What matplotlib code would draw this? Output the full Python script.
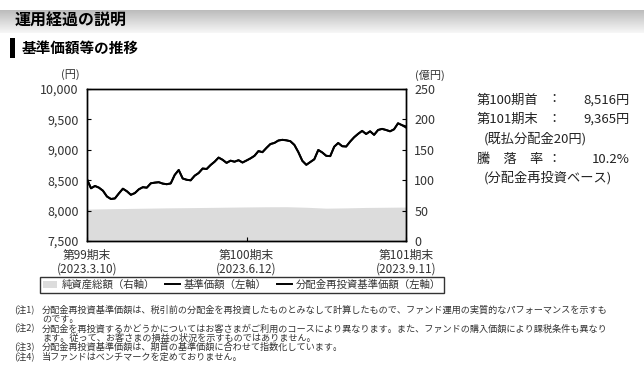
import matplotlib
matplotlib.use('Agg')
import matplotlib.pyplot as plt
from matplotlib.patches import Patch, Rectangle
from matplotlib.lines import Line2D
import numpy as np

plt.rcParams['font.family'] = ['Noto Sans CJK JP', 'DejaVu Sans']

# データ
nav = [8516, 8367, 8405, 8377, 8327, 8232, 8191, 8200, 8283, 8360,
       8318, 8260, 8288, 8350, 8385, 8377, 8449, 8460, 8467, 8444,
       8434, 8447, 8587, 8668, 8528, 8507, 8498, 8574, 8618, 8692,
       8684, 8750, 8804, 8872, 8836, 8785, 8821, 8804, 8829, 8791,
       8824, 8859, 8901, 8979, 8961, 9031, 9095, 9113, 9153, 9164,
       9156, 9141, 9081, 8962, 8819, 8753, 8799, 8844, 8997, 8956,
       8901, 8896, 9051, 9112, 9059, 9054, 9136, 9207, 9263, 9311,
       9260, 9304, 9246, 9326, 9344, 9326, 9304, 9337, 9436, 9405,
       9365]
# 分配金再投資基準価額（期末に分配金20円を再投資）
nav_reinvest = nav[:-1] + [9385]
net_assets = [52.5, 53.0, 53.5, 54.0, 54.5, 54.8, 55.2, 55.6, 56.0,
              56.3, 56.4, 55.5, 54.0, 54.5, 55.2, 55.5, 55.8]

period_labels = ['第99期末\n(2023.3.10)', '第100期末\n(2023.6.12)', '第101期末\n(2023.9.11)']
left_ticks = [7500, 8000, 8500, 9000, 9500, 10000]
right_ticks = [0, 50, 100, 150, 200, 250]

legend_labels = ['純資産総額（右軸）', '基準価額（左軸）', '分配金再投資基準価額（左軸）']

summary_rows = [('第100期首', '8,516円'), ('第101期末', '9,365円'), ('騰　落　率', '10.2%')]
summary_notes = ['(既払分配金20円)', '(分配金再投資ベース)']

notes = [
    ('(注1)', '分配金再投資基準価額は、税引前の分配金を再投資したものとみなして計算したもので、ファンド運用の実質的なパフォーマンスを示すも\nのです。'),
    ('(注2)', '分配金を再投資するかどうかについてはお客さまがご利用のコースにより異なります。また、ファンドの購入価額により課税条件も異なり\nます。従って、お客さまの損益の状況を示すものではありません。'),
    ('(注3)', '分配金再投資基準価額は、期首の基準価額に合わせて指数化しています。'),
    ('(注4)', '当ファンドはベンチマークを定めておりません。'),
]

W, H = 644, 387


def fx(px):
    return px / W


def fy(py):
    return 1 - py / H


fig = plt.figure(figsize=(W / 100, H / 100), dpi=100, facecolor='white')

# 見出し帯（グラデーション）
hax = fig.add_axes([0, fy(33), 1, 23 / H])
grad = np.linspace(0, 1, 50).reshape(-1, 1)
hax.imshow(grad, aspect='auto', cmap=matplotlib.colors.LinearSegmentedColormap.from_list(
    'g', ['#bcbcbc', '#f7f7f7']), extent=[0, 1, 0, 1])
hax.axis('off')
fig.text(fx(15), fy(21), '運用経過の説明', fontsize=11.5, weight='bold', va='center', ha='left')

# 小見出し
fig.patches.append(Rectangle((fx(10), fy(58)), 5 / W, 20 / H, transform=fig.transFigure,
                             facecolor='black', edgecolor='none'))
fig.text(fx(22), fy(47.5), '基準価額等の推移', fontsize=10.5, weight='bold', va='center', ha='left')

# グラフ
ax = fig.add_axes([fx(87), fy(241), 319 / W, 152 / H])
ax2 = ax.twinx()

x = np.arange(len(nav))
xa = np.linspace(0, len(nav) - 1, len(net_assets))
ax2.fill_between(xa, 0, net_assets, color='#dcdcdc', linewidth=0)
ax2.set_ylim(0, 250)
ax2.set_yticks(right_ticks)
ax2.set_yticklabels([str(v) for v in right_ticks])

ax.plot(x, nav_reinvest, color='black', linewidth=1.4)
ax.plot(x, nav, color='black', linewidth=1.4)
ax.set_ylim(7500, 10000)
ax.set_yticks(left_ticks)
ax.set_yticklabels([f'{v:,}' for v in left_ticks])
ax.set_xlim(0, len(nav) - 1)
ax.set_xticks([0, (len(nav) - 1) / 2, len(nav) - 1])
ax.set_xticklabels(period_labels, linespacing=1.05)

ax.set_zorder(ax2.get_zorder() + 1)
ax.patch.set_visible(False)

for a in (ax, ax2):
    for s in a.spines.values():
        s.set_linewidth(1.0)
        s.set_color('black')
ax.tick_params(axis='y', direction='in', length=3, pad=6, labelsize=9, labelcolor='#333333')
ax.tick_params(axis='x', direction='in', length=3, pad=6, labelsize=8.5, labelcolor='#333333')
ax2.tick_params(axis='y', direction='in', length=3, pad=6, labelsize=9, labelcolor='#333333')

fig.text(fx(70), fy(75), '(円)', fontsize=8, ha='center', va='center', color='#333333')
fig.text(fx(430), fy(75), '(億円)', fontsize=8, ha='center', va='center', color='#333333')

# 凡例
handles = [Patch(facecolor='#dcdcdc', edgecolor='none'),
           Line2D([], [], color='black', linewidth=1.4),
           Line2D([], [], color='black', linewidth=1.4)]
leg = fig.legend(handles, legend_labels, loc='center left', bbox_to_anchor=(fx(40), fy(285)),
                 ncol=3, fontsize=7.5, frameon=True, fancybox=False, edgecolor='black',
                 handlelength=1.4, handletextpad=0.4, columnspacing=1.0, borderpad=0.25,
                 borderaxespad=0)
leg.get_frame().set_linewidth(1.0)
for t in leg.get_texts():
    t.set_color('#333333')

# 右側の説明
row_y = [100, 119, 159]
for (lab, val), yy in zip(summary_rows, row_y):
    fig.text(fx(477), fy(yy), lab, fontsize=9.5, ha='left', va='center', color='#222222')
    fig.text(fx(547), fy(yy), '：', fontsize=9.5, ha='left', va='center', color='#222222')
    fig.text(fx(630), fy(yy), val, fontsize=9.5, ha='right', va='center', color='#222222')
for txt, yy in zip(summary_notes, [139, 178]):
    fig.text(fx(484), fy(yy), txt, fontsize=9.5, ha='left', va='center', color='#222222')

# 注記
yy = 310
for lab, txt in notes:
    fig.text(fx(14), fy(yy), lab, fontsize=6.6, ha='left', va='center', color='#333333')
    for line in txt.split('\n'):
        fig.text(fx(42), fy(yy), line, fontsize=6.6, ha='left', va='center', color='#333333')
        yy += 9.4

plt.savefig('out.png', dpi=100, facecolor='white')
plt.close()
